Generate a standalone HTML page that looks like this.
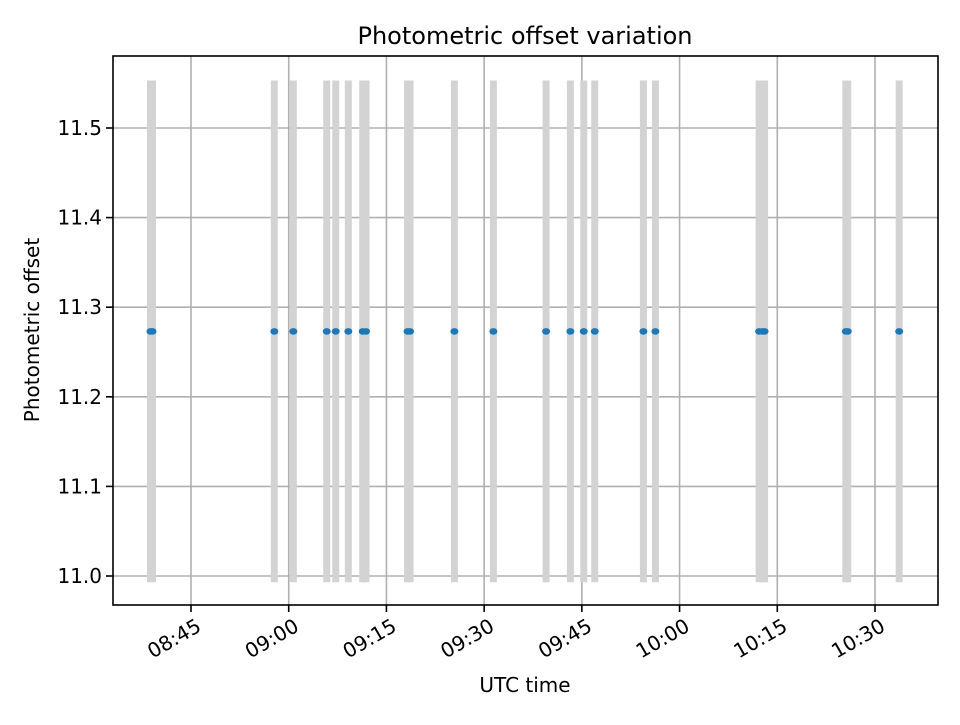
<!DOCTYPE html>
<html><head><meta charset="utf-8"><style>
body{margin:0;background:#fff;}
svg text{font-family:"DejaVu Sans","Liberation Sans",sans-serif;fill:#000;}
</style></head><body>
<svg id="chart" width="960" height="720" viewBox="0 0 960 720" xmlns="http://www.w3.org/2000/svg">
<rect width="960" height="720" fill="#fff"/>
<g id="grid"></g>
<g id="bars"></g>
<g id="points"></g>
<rect x="113" y="56" width="825" height="549" fill="none" stroke="#000" stroke-width="1.6"/>
<g id="axes"></g>
<text x="525" y="44" font-size="24" text-anchor="middle">Photometric offset variation</text>
<text x="525" y="692" font-size="20" text-anchor="middle">UTC time</text>
<text x="0" y="0" font-size="20" text-anchor="middle" transform="translate(39,330) rotate(-90)">Photometric offset</text>
</svg>
<script>
// minutes after 08:00 UTC
const times = [38.78, 39.09, 57.79, 60.71, 65.84, 67.22, 69.15, 71.36, 71.87, 78.24, 78.63, 85.43, 91.42, 99.51, 103.24, 105.29, 106.98, 114.45, 116.29, 132.21, 132.75, 133.05, 145.52, 145.82, 153.71];
const offsets = [11.273,11.273,11.273,11.273,11.273,11.273,11.273,11.273,11.273,11.273,11.273,11.273,11.273,11.273,11.273,11.273,11.273,11.273,11.273,11.273,11.273,11.273,11.273,11.273,11.273];
const errors = [0.28,0.28,0.28,0.28,0.28,0.28,0.28,0.28,0.28,0.28,0.28,0.28,0.28,0.28,0.28,0.28,0.28,0.28,0.28,0.28,0.28,0.28,0.28,0.28,0.28];
const xTicks = [45, 60, 75, 90, 105, 120, 135, 150];
const xTickLabels = ["08:45","09:00","09:15","09:30","09:45","10:00","10:15","10:30"];
const yTicks = [11.0, 11.1, 11.2, 11.3, 11.4, 11.5];
const yTickLabels = ["11.0","11.1","11.2","11.3","11.4","11.5"];

const NS = "http://www.w3.org/2000/svg";
const X0=113, X1=938, Y0=56, Y1=605;
function xs(m){ return 191 + (m-45)*(684/105); }
function ys(v){ return 576 - (v-11.0)*896; }
function mk(tag, attrs, parent){
  const e=document.createElementNS(NS,tag);
  for(const k in attrs) e.setAttribute(k,attrs[k]);
  parent.appendChild(e); return e;
}
const grid=document.getElementById('grid'), bars=document.getElementById('bars'), pts=document.getElementById('points'), axes=document.getElementById('axes');
xTicks.forEach((t,i)=>{
  const x=xs(t);
  const g=mk('line',{x1:x,x2:x,y1:Y0,y2:Y1,stroke:'#b0b0b0','stroke-width':1.6},grid);
  
  
  const tk=mk('line',{x1:x,x2:x,y1:Y1,y2:Y1+7,stroke:'#000','stroke-width':1.6},axes);
  
  
  const tx=mk('text',{x:0,y:15,'font-size':20,'text-anchor':'end',transform:`translate(${x+4},${Y1+12}) rotate(-30)`},axes);
  tx.textContent=xTickLabels[i];
  
  
});
yTicks.forEach((t,i)=>{
  const y=ys(t);
  const g=mk('line',{x1:X0,x2:X1,y1:y,y2:y,stroke:'#b0b0b0','stroke-width':1.6},grid);
  
  
  const tk=mk('line',{x1:X0-7,x2:X0,y1:y,y2:y,stroke:'#000','stroke-width':1.6},axes);
  
  
  const tx=mk('text',{x:X0-11,y:y+7,'font-size':20,'text-anchor':'end'},axes);
  tx.textContent=yTickLabels[i];
  
  
});
times.forEach((t,i)=>{
  const x=xs(t);
  const b=mk('line',{x1:x,x2:x,y1:ys(offsets[i]+errors[i]),y2:ys(offsets[i]-errors[i]),stroke:'#d3d3d3','stroke-width':7},bars);
  
  
});
times.forEach((t,i)=>{
  const p=mk('ellipse',{cx:xs(t),cy:ys(offsets[i]),rx:4,ry:3.3,fill:'#1f77b4'},pts);
  
  
});
</script>
</body></html>
